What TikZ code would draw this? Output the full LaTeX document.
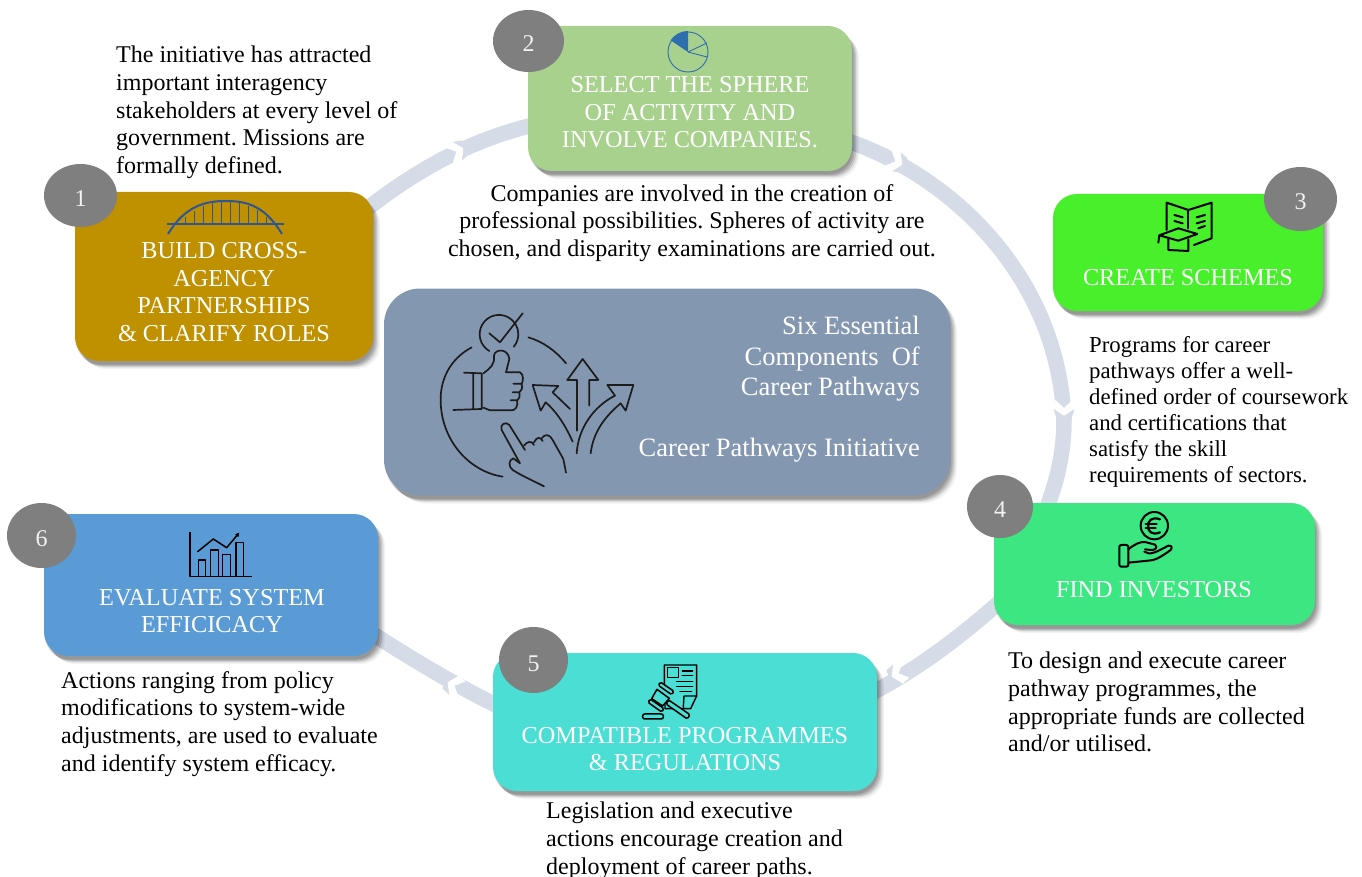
\documentclass[tikz,border=0pt]{standalone}
\usepackage{fontspec}
\setmainfont{Liberation Serif}
\usetikzlibrary{shadows,arrows.meta,shapes.geometric}
\definecolor{ringc}{HTML}{D5DCE8}
\definecolor{cb1}{HTML}{BF9000}
\definecolor{cb2}{HTML}{A9D18E}
\definecolor{cb3}{HTML}{47F02A}
\definecolor{cb4}{HTML}{3CE680}
\definecolor{cb5}{HTML}{4ADED4}
\definecolor{cb6}{HTML}{5B9BD5}
\definecolor{cbc}{HTML}{8497B0}
\definecolor{numc}{HTML}{7F7F7F}
\definecolor{brg}{HTML}{2F5597}
\definecolor{pie}{HTML}{2E6DAE}
\definecolor{ink}{HTML}{1C1C1C}
\frenchspacing
\tikzset{
  softshadow/.style={
    general shadow={fill=black,fill opacity=.12,shadow xshift=1pt,shadow yshift=-3.5pt},
    general shadow={fill=black,fill opacity=.12,shadow xshift=2.5pt,shadow yshift=-4.5pt},
    general shadow={fill=black,fill opacity=.12,shadow xshift=4pt,shadow yshift=-5.5pt},
    general shadow={fill=black,fill opacity=.08,shadow xshift=5.5pt,shadow yshift=-6.5pt},
    general shadow={fill=black,fill opacity=.05,shadow xshift=7pt,shadow yshift=-8pt}},
  panel/.style={draw=none,inner sep=0pt,rounded corners=24pt,softshadow},
  numdisc/.style={ellipse,fill=numc,inner sep=0pt,text=white!95!black,text height=22pt,text depth=0pt,font=\fontsize{24}{26}\selectfont},
  boxlabel/.style={text=white,align=center,inner sep=0pt,font=\fontsize{24.3}{27.6}\selectfont},
  bodytext/.style={text=black,align=left,anchor=north west,inner sep=0pt,font=\fontsize{24}{27.7}\selectfont},
  band/.style={draw=ringc,line width=15.5pt},
  iconline/.style={draw=black,line width=2pt,line cap=round,line join=round},
  bigicon/.style={draw=ink,line width=1.7pt,line cap=round,line join=round},
}
\newcommand{\chevron}[3]{%
  \begin{scope}[shift={(#1,#2)},rotate=#3]
    \fill[white] (-12,8.5) -- (-4,0) -- (-12,-8.5) -- (-3,-11) -- (4,0) -- (-3,11) -- cycle;
    \fill[ringc] (-3,10.5) -- (4,0) -- (-3,-10.5) -- (6,-7.7) -- (6,7.7) -- cycle;
  \end{scope}}
\begin{document}
\begin{tikzpicture}[x=1pt,y=-1pt]
\useasboundingbox (0,0) rectangle (1362,877);
% free ends of the ring (hidden under the boxes)
\coordinate (r1) at (358,216);
\coordinate (r2a) at (537,124);
\coordinate (r2b) at (845,140);
\coordinate (r4a) at (1045,512);
\coordinate (r4b) at (1002,600);
\coordinate (r5a) at (872,693);
\coordinate (r5b) at (502,708);
\coordinate (r6) at (370,632);
% ring
\draw[band] (r1) .. controls (415,170) and (470,140) .. (r2a);
\draw[band] (r2b) .. controls (950,175) and (1058,275) .. (1064,420) .. controls (1064,450) and (1058,480) .. (r4a);
\draw[band] (r4b) .. controls (968,630) and (925,665) .. (r5a);
\draw[band] (r5b) .. controls (460,688) and (410,658) .. (r6);
\chevron{460}{150}{26}
\chevron{899}{163}{-24}
\chevron{1064}{412}{-90}
\chevron{895}{675}{205}
\chevron{451}{684}{155}
% panels
\node[panel,fill=cb1,minimum width=298pt,minimum height=169pt] (b1) at (224,276.5) {};
\node[panel,fill=cb2,minimum width=324pt,minimum height=145pt] (b2) at (690,98.5) {};
\node[panel,fill=cb3,minimum width=270pt,minimum height=117pt] (b3) at (1188,252.5) {};
\node[panel,fill=cb4,minimum width=321pt,minimum height=122pt] (b4) at (1154.5,564) {};
\node[panel,fill=cb5,minimum width=384pt,minimum height=138pt] (b5) at (685,722) {};
\node[panel,fill=cb6,minimum width=334pt,minimum height=142pt] (b6) at (211,585) {};
\node[panel,fill=cbc,rounded corners=36pt,minimum width=566pt,minimum height=207pt] (bc) at (667,392) {};
% number discs
\node[numdisc,minimum width=73pt,minimum height=63pt] (n1) at (80.5,195.5) {1};
\node[numdisc,minimum width=71pt,minimum height=62pt] (n2) at (528.5,41) {2};
\node[numdisc,minimum width=73pt,minimum height=64pt] (n3) at (1300.5,199) {3};
\node[numdisc,minimum width=66pt,minimum height=63pt] (n4) at (1000,506.5) {4};
\node[numdisc,minimum width=69pt,minimum height=66pt] (n5) at (533.5,660) {5};
\node[numdisc,minimum width=69pt,minimum height=65pt] (n6) at (41.5,535.5) {6};
% box labels
\node[boxlabel] (l1) at (224,292) {BUILD CROSS-\\AGENCY\\PARTNERSHIPS\\\& CLARIFY ROLES};
\node[boxlabel] (l2) at (690,112.5) {SELECT THE SPHERE\\OF ACTIVITY AND\\INVOLVE COMPANIES.};
\node[boxlabel] (l3) at (1188,278) {CREATE SCHEMES};
\node[boxlabel] (l4) at (1154,590) {FIND INVESTORS};
\node[boxlabel] (l5) at (685,749) {COMPATIBLE PROGRAMMES\\\& REGULATIONS};
\node[boxlabel] (l6) at (212,611) {EVALUATE SYSTEM\\EFFICICACY};
% body texts
\node[bodytext] (t1) at (116,46) {The initiative has attracted\\important interagency\\stakeholders at every level of\\government. Missions are\\formally defined.};
\node[bodytext,align=center,anchor=north] (t2) at (692,184) {Companies are involved in the creation of\\professional possibilities. Spheres of activity are\\chosen, and disparity examinations are carried out.};
\node[bodytext,font=\fontsize{22.8}{26}\selectfont] (t3) at (1089,336) {Programs for career\\pathways offer a well-\\defined order of coursework\\and certifications that\\satisfy the skill\\requirements of sectors.};
\node[bodytext] (t4) at (1008,652) {To design and execute career\\pathway programmes, the\\appropriate funds are collected\\and/or utilised.};
\node[bodytext] (t5) at (546,802) {Legislation and executive\\actions encourage creation and\\deployment of career paths.};
\node[bodytext] (t6) at (61,671) {Actions ranging from policy\\modifications to system-wide\\adjustments, are used to evaluate\\and identify system efficacy.};
% centre panel text
\node[text=white,align=right,anchor=north east,inner sep=0pt,font=\fontsize{26.5}{30.6}\selectfont] (tc) at (920,316) {Six Essential\\Components\ \ Of\\Career Pathways\\[30.6pt]Career Pathways Initiative};
% bridge icon
\foreach \hx in {185,194,203,212,221,230,239,248,257,266}{
  \pgfmathsetmacro{\hy}{201+33*((\hx-226)/58)*((\hx-226)/58)}
  \draw[brg,line width=.9pt] (\hx,\hy) -- (\hx,224);
}
\draw[brg,line width=1.1pt] (167,224) -- (284,224);
\draw[brg,line width=2pt] (168,234) .. controls (185,206) and (205,201) .. (226,201) .. controls (247,201) and (265,206) .. (282,234);
% pie icon
\begin{scope}[pie,line width=.9pt]
  \draw (688,52) circle[radius=20];
  \fill (688,52) -- (688,31) arc[start angle=-90,end angle=-146,radius=21] -- cycle;
  \draw (688,52) -- (707,43);
  \draw (688,52) -- (707,57);
\end{scope}
% book and cap icon
\begin{scope}[shift={(1040,160)},x=.3333pt,y=-.3333pt]
  \draw[iconline] (380,210) -- (380,128) -- (445,150) -- (515,128) -- (515,235) -- (462,255);
  \draw[iconline] (445,150) -- (445,205);
  \draw[iconline] (403,165) -- (428,172) (403,183) -- (428,190);
  \draw[iconline] (470,172) -- (495,165) (470,190) -- (495,183) (475,205) -- (495,198);
  \draw[iconline,fill=cb3] (358,226) -- (415,205) -- (472,222) -- (415,242) -- cycle;
  \draw[iconline] (385,238) -- (385,270) -- (445,273) -- (445,238);
  \draw[iconline] (358,226) -- (355,248);
\end{scope}
% coin in hand icon
\begin{scope}[shift={(960,470)},x=.3333pt,y=-.3333pt]
  \draw[iconline] (583,167) circle[radius=41];
  \draw[iconline,line width=2.2pt] (600,148) .. controls (575,138) and (562,155) .. (565,168) .. controls (562,182) and (575,198) .. (600,187);
  \draw[iconline,line width=2.2pt] (557,162) -- (590,162) (557,175) -- (587,175);
  \draw[iconline,rounded corners=2pt] (478,225) rectangle (505,290);
  \draw[iconline] (505,238) .. controls (525,222) and (540,215) .. (555,216) -- (585,224) .. controls (595,232) and (585,242) .. (572,240) -- (555,238);
  \draw[iconline] (553,245) .. controls (570,258) and (590,245) .. (625,227) .. controls (640,225) and (637,240) .. (625,245) .. controls (600,262) and (585,272) .. (565,272) -- (505,278);
\end{scope}
% gavel and document icon
\begin{scope}[shift={(480,620)},x=.3333pt,y=-.3333pt]
  \draw[iconline,line width=1.4pt] (553,192) -- (553,135) -- (650,135) -- (650,228) -- (632,266) -- (555,266) -- (555,252);
  \draw[iconline,line width=1.4pt] (650,228) -- (612,228) -- (610,262);
  \draw[iconline,line width=1.4pt] (563,143) rectangle (595,173);
  \draw[iconline,line width=1.4pt] (607,153) -- (638,153) (607,167) -- (638,167) (590,185) -- (638,185) (590,200) -- (638,200) (600,215) -- (635,215);
  \draw[iconline,fill=cb5,line width=1.5pt,rounded corners=1.5pt] (558,252) -- (622,297) -- (630,284) -- (566,240) -- cycle;
  \draw[iconline,fill=cb5,line width=1.5pt] (531,208) -- (568,235) -- (548,258) -- (515,236) -- cycle;
  \draw[iconline,fill=cb5,line width=1.5pt,rounded corners=1.5pt] (541,186) -- (582,214) -- (575,224) -- (535,196) -- cycle;
  \draw[iconline,fill=cb5,line width=1.5pt,rounded corners=1.5pt] (511,237) -- (552,266) -- (545,276) -- (504,247) -- cycle;
  \draw[iconline,line width=1.5pt,rounded corners=2pt] (488,282) rectangle (550,297);
\end{scope}
% chart icon
\begin{scope}[shift={(0,500)},x=.3333pt,y=-.3333pt]
  \draw[iconline,line width=1.5pt,line cap=butt] (570,97) -- (570,230) -- (755,230);
  \draw[iconline,line width=1.5pt] (595,228) -- (595,180) -- (617,180) -- (617,228);
  \draw[iconline,line width=1.5pt] (632,228) -- (632,150) -- (655,150) -- (655,228);
  \draw[iconline,line width=1.5pt] (668,228) -- (668,163) -- (692,163) -- (692,228);
  \draw[iconline,line width=1.5pt] (708,228) -- (708,128) -- (730,128) -- (730,228);
  \draw[iconline,line width=1.5pt,-{Triangle[length=4pt,width=4pt]}] (593,155) -- (640,117) -- (680,143) -- (718,98);
\end{scope}
% centre icon
\begin{scope}[shift={(380,285)},x=.3333pt,y=-.3333pt]
  \draw[bigicon] (275,187) .. controls (205,225) and (180,290) .. (182,350) .. controls (185,470) and (270,560) .. (368,575);
  \draw[bigicon] (445,157) .. controls (490,170) and (530,200) .. (558,235);
  \draw[bigicon] (328,198) arc[start angle=120,end angle=400,radius=58] ;
  \draw[bigicon] (328,145) -- (360,172) -- (428,85);
  \draw[bigicon] (252,263) -- (305,265) (280,265) -- (280,372) (305,265) -- (305,372) (220,375) -- (305,372);
  \draw[bigicon] (310,265) .. controls (330,250) and (345,240) .. (342,212) .. controls (345,190) and (385,190) .. (388,222) -- (378,262) -- (420,262) .. controls (432,268) and (430,290) .. (425,296) -- (400,296) (425,296) .. controls (428,310) and (425,318) .. (418,322) -- (398,322) (418,322) .. controls (420,335) and (418,342) .. (412,346) -- (392,346) (412,346) .. controls (415,365) and (405,376) .. (395,376) -- (330,376) -- (310,368);
  \draw[bigicon] (562,285) -- (608,222) -- (655,285) -- (628,285) -- (628,362);
  \draw[bigicon] (562,285) -- (590,285) -- (590,437);
  \draw[bigicon] (570,372) -- (518,322) -- (535,303) -- (458,300) -- (482,377) -- (497,352) .. controls (535,385) and (560,430) .. (578,470);
  \draw[bigicon] (590,505) .. controls (595,430) and (640,365) .. (705,332) -- (682,300) -- (760,300) -- (737,377) -- (722,355) .. controls (675,395) and (640,440) .. (632,505);
  \draw[bigicon] (435,495) -- (388,420) .. controls (378,408) and (358,418) .. (365,435) -- (420,535) -- (400,520) .. controls (385,525) and (385,545) .. (398,555) .. controls (430,575) and (465,590) .. (492,604);
  \draw[bigicon] (432,482) .. controls (440,470) and (455,465) .. (462,480) (462,472) .. controls (470,455) and (482,455) .. (488,468) (485,460) .. controls (495,445) and (510,448) .. (518,465) -- (550,522) -- (558,563);
\end{scope}
\end{tikzpicture}
\end{document}
